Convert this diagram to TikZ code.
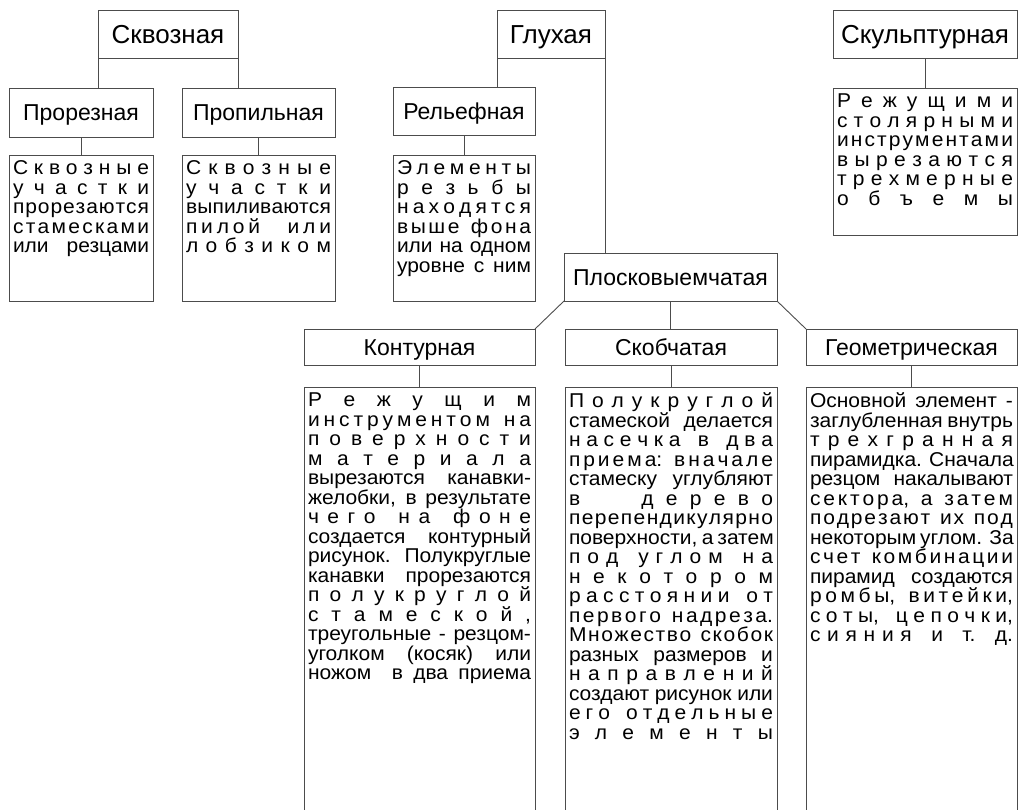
\documentclass[tikz,border=0pt]{standalone}
\usepackage{fontspec}
\setmainfont{Liberation Sans}
\newfontfamily\bodyfam{Liberation Sans}[FakeStretch=1.05]
\definecolor{linegrey}{gray}{0.3}
\newcommand*{\topfont}{\fontsize{26}{28}\selectfont}
\newcommand*{\headfont}{\fontsize{23}{26}\selectfont}
\newcommand*{\bodyfont}{\bodyfam\fontsize{20}{19.5}\selectfont}
% one justified line, and one line spread letter by letter (\ws = gap between words)
\newcommand{\jline}[1]{\makebox[\linewidth][s]{#1}}
\newcommand{\spline}[1]{\makebox[\linewidth][s]{\spaceskip=0pt plus 1fil\xspaceskip=0pt plus 1fil\relax #1}}
\newcommand{\ws}{\hskip .3em plus 2fil\relax}
% text block of a box: width, height (pt), lines
\newcommand{\desc}[3]{\parbox[c][\dimexpr#2pt-12pt\relax][t]{\dimexpr#1pt-8pt\relax}{#3}}
\tikzset{
  head/.style={draw=linegrey, line width=0.9pt, inner sep=0pt, outer sep=0pt, anchor=north west,
    font=\headfont, text height=16.5pt, text depth=0pt},
  tophead/.style={head, font=\topfont, text height=18.6pt},
  descbox/.style={draw=linegrey, line width=0.9pt, inner xsep=4pt, inner ysep=6pt, outer sep=0pt, anchor=north west, font=\bodyfont},
  link/.style={draw=linegrey, line width=0.9pt}
}

\begin{document}
\begin{tikzpicture}[x=1pt, y=-1pt]
    \useasboundingbox (0,0) rectangle (1019,809);
    \clip (0,0) rectangle (1019,809);
    % top row
    \node[tophead, minimum width=140pt, minimum height=48pt] (skvoz) at (98,10) {Сквозная};
    \node[tophead, minimum width=108pt, minimum height=48pt] (glukh) at (497,10) {Глухая};
    \node[tophead, minimum width=184pt, minimum height=48pt] (skulpt) at (833,10) {Скульптурная};
    % second row
    \node[head, minimum width=144pt, minimum height=49pt] (prorez) at (9,88) {Прорезная};
    \node[head, minimum width=153pt, minimum height=49pt] (propil) at (182,88) {Пропильная};
    \node[head, minimum width=142pt, minimum height=48pt] (relef) at (393,87) {Рельефная};
    \node[descbox] (skulptD) at (833,88) {\desc{184}{147}{%
        \spline{Р е ж у щ и м и}\\
        \spline{с т о л я р н ы м и}\\
        \spline{и н с т р у м е н т а м и}\\
        \spline{в ы р е з а ю т с я}\\
        \spline{т р е х м е р н ы е}\\
        \spline{о б ъ е м ы}}};
    % descriptions under the second row
    \node[descbox] (prorezD) at (9,155) {\desc{144}{146}{%
        \spline{С к в о з н ы е}\\
        \spline{у ч а с т к и}\\
        \spline{п р о р е з а ю т с я}\\
        \spline{с т а м е с к а м и}\\
        \jline{или резцами}}};
    \node[descbox] (propilD) at (182,155) {\desc{153}{146}{%
        \spline{С к в о з н ы е}\\
        \spline{у ч а с т к и}\\
        \spline{в ы п и л и в а ю т с я}\\
        \spline{п и л о й\ws\ws и л и}\\
        \spline{л о б з и к о м}}};
    \node[descbox] (relefD) at (393,155) {\desc{142}{146}{%
        \spline{Э л е м е н т ы}\\
        \spline{р е з ь б ы}\\
        \spline{н а х о д я т с я}\\
        \spline{в ы ш е\ws ф о н а}\\
        \jline{или на одном}\\
        \jline{уровне с ним}}};
    \node[head, minimum width=213pt, minimum height=48pt] (ploskov) at (564,253) {Плосковыемчатая};
    % third row
    \node[head, minimum width=231pt, minimum height=36pt] (kontur) at (304,329) {Контурная};
    \node[head, minimum width=212pt, minimum height=36pt] (skob) at (565,329) {Скобчатая};
    \node[head, minimum width=211pt, minimum height=36pt] (geom) at (806,329) {Геометрическая};
    \node[descbox] (konturD) at (304,387) {\desc{231}{450}{%
        \spline{Р е ж у щ и м}\\
        \spline{и н с т р у м е н т о м\ws н а}\\
        \spline{п о в е р х н о с т и}\\
        \spline{м а т е р и а л а}\\
        \jline{вырезаются канавки-}\\
        \jline{желобки, в результате}\\
        \spline{ч е г о\ws н а\ws ф о н е}\\
        \jline{создается контурный}\\
        \jline{рисунок. Полукруглые}\\
        \jline{канавки прорезаются}\\
        \spline{п о л у к р у г л о й}\\
        \spline{с т а м е с к о й ,}\\
        \jline{треугольные - резцом-}\\
        \jline{уголком (косяк) или}\\
        \jline{ножом~ в два приема}}};
    \node[descbox] (skobD) at (565,387) {\desc{212}{450}{%
        \spline{П о л у к р у г л о й}\\
        \jline{стамеской делается}\\
        \spline{н а с е ч к а\ws в\ws д в а}\\
        \spline{п р и е м а:\ws в н а ч а л е}\\
        \jline{стамеску углубляют}\\
        \spline{в\ws\ws д е р е в о}\\
        \spline{п е р е п е н д и к у л я р н о}\\
        \jline{поверхности, а затем}\\
        \spline{п о д\ws у г л о м\ws н а}\\
        \spline{н е к о т о р о м}\\
        \spline{р а с с т о я н и и\ws о т}\\
        \spline{п е р в о г о\ws н а д р е з а.}\\
        \spline{М н о ж е с т в о\ws с к о б о к}\\
        \jline{разных размеров и}\\
        \spline{н а п р а в л е н и й}\\
        \jline{создают рисунок или}\\
        \spline{е г о\ws о т д е л ь н ы е}\\
        \spline{э л е м е н т ы}}};
    \node[descbox] (geomD) at (806,387) {\desc{211}{450}{%
        \jline{Основной элемент -}\\
        \jline{заглубленная внутрь}\\
        \spline{т р е х г р а н н а я}\\
        \jline{пирамидка. Сначала}\\
        \jline{резцом накалывают}\\
        \spline{с е к т о р а,\ws а\ws з а т е м}\\
        \spline{п о д р е з а ю т\ws и х\ws п о д}\\
        \jline{некоторым углом. За}\\
        \spline{с ч е т\ws к о м б и н а ц и и}\\
        \jline{пирамид создаются}\\
        \spline{р о м б ы,\ws в и т е й к и,}\\
        \spline{с о т ы,\ws ц е п о ч к и,}\\
        \spline{с и я н и я\ws и\ws т.\ws д.}}};
    % connectors
    \draw[link] (skvoz.south west) -- (skvoz.south west |- prorez.north);
    \draw[link] (skvoz.south east) -- (skvoz.south east |- propil.north);
    \draw[link] (glukh.south west) -- (glukh.south west |- relef.north);
    \draw[link] (glukh.south east) -- (glukh.south east |- ploskov.north);
    \draw[link] (skulpt.south) -- (skulptD.north);
    \draw[link] (prorez.south) -- (prorezD.north);
    \draw[link] (propil.south) -- (propilD.north);
    \draw[link] (relef.south) -- (relefD.north);
    \draw[link] (ploskov.south west) -- (kontur.north east);
    \draw[link] (ploskov.south) -- (ploskov.south |- skob.north);
    \draw[link] (ploskov.south east) -- (geom.north west);
    \draw[link] (kontur.south) -- (konturD.north);
    \draw[link] (skob.south) -- (skobD.north);
    \draw[link] (geom.south) -- (geomD.north);
\end{tikzpicture}
\end{document}
